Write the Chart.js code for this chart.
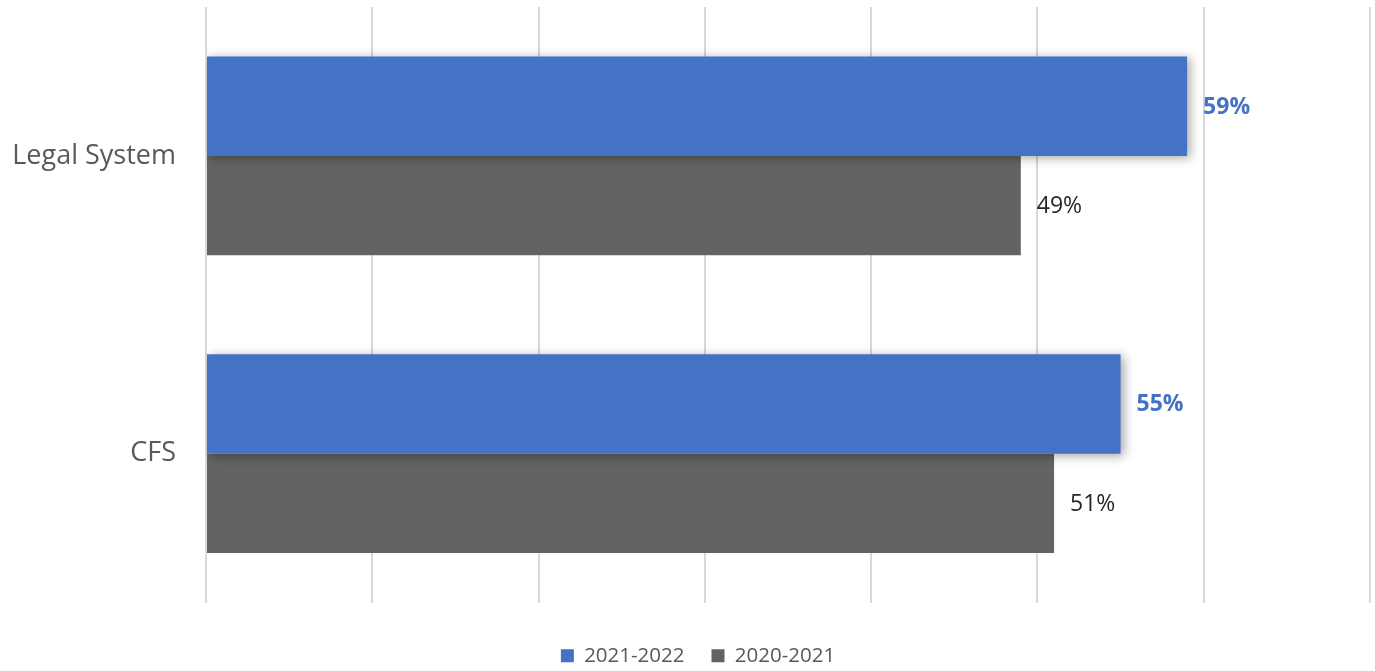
<!DOCTYPE html>
<html>
<head>
<meta charset="utf-8">
<title>Legal System vs CFS</title>
<script src="https://cdn.jsdelivr.net/npm/chart.js@4"></script>
<style>
  body { margin: 0; background: #fff; }
  #wrap { width: 1375px; height: 671px; position: relative; }
</style>
</head>
<body>
<div id="wrap"><canvas id="barChart"></canvas></div>
<script>
const categories = ['Legal System', 'CFS'];
const seriesNames = ['2021-2022', '2020-2021'];
const values2122 = [59, 55];
const values2021 = [49, 51];
const axisMax = 70;
const axisStep = 10;

const BLUE = '#4472C4';
const GRAY = '#636363';
const FONT = "'Open Sans', 'Noto Sans', sans-serif";

// soft shadow behind the blue bars only
const barShadow = {
  id: 'barShadow',
  beforeDatasetDraw(chart, args) {
    if (args.index !== 0) return;
    const { ctx } = chart;
    ctx.save();
    ctx.shadowColor = 'rgba(0, 0, 0, 0.35)';
    ctx.shadowBlur = 10;
    ctx.shadowOffsetX = 3;
    ctx.shadowOffsetY = 2;
  },
  afterDatasetDraw(chart, args) {
    if (args.index !== 0) return;
    chart.ctx.restore();
  },
};

// percentage labels just past the end of each bar
const valueLabels = {
  id: 'valueLabels',
  afterDatasetsDraw(chart) {
    const { ctx } = chart;
    ctx.save();
    ctx.textAlign = 'left';
    ctx.textBaseline = 'middle';
    chart.data.datasets.forEach((ds, i) => {
      const meta = chart.getDatasetMeta(i);
      meta.data.forEach((bar, j) => {
        if (i === 0) {
          ctx.font = `bold 23px ${FONT}`;
          ctx.fillStyle = BLUE;
        } else {
          ctx.font = `23px ${FONT}`;
          ctx.fillStyle = '#262626';
        }
        ctx.fillText(`${ds.data[j]}%`, bar.x + 16, bar.y + 1);
      });
    });
    ctx.restore();
  },
};

// legend sits centred under the plot area rather than the whole canvas
const legendNudge = {
  id: 'legendNudge',
  afterLayout(chart) {
    const lg = chart.legend;
    if (!lg) return;
    lg.left += 13;
    lg.right += 13;
  },
};

const ctx = document.getElementById('barChart').getContext('2d');
const chart = new Chart(ctx, {
  type: 'bar',
  data: {
    labels: categories,
    datasets: [
      {
        label: seriesNames[0],
        data: values2122,
        backgroundColor: BLUE,
      },
      {
        label: seriesNames[1],
        data: values2021,
        backgroundColor: GRAY,
      },
    ],
  },
  options: {
    indexAxis: 'y',
    responsive: true,
    maintainAspectRatio: false,
    animation: false,
    layout: {
      padding: { top: 7, right: 5, left: 0, bottom: -5 },
    },
    datasets: {
      bar: {
        categoryPercentage: 0.668,
        barPercentage: 1.0,
      },
    },
    plugins: {
      legend: {
        position: 'bottom',
        labels: {
          boxWidth: 13,
          boxHeight: 13,
          padding: 27,
          color: '#595959',
          font: { family: FONT, size: 20.5 },
        },
      },
      tooltip: { enabled: false },
    },
    scales: {
      x: {
        min: 0,
        max: axisMax,
        ticks: { display: false, stepSize: axisStep },
        grid: {
          color: '#d9d9d9',
          lineWidth: 2,
          drawTicks: false,
        },
        border: { display: false },
        afterFit(scale) {
          scale.height = 16;
        },
      },
      y: {
        grid: { display: false, drawTicks: false },
        border: { display: false },
        ticks: {
          color: '#595959',
          padding: 30,
          font: { family: FONT, size: 27 },
        },
        afterFit(scale) {
          scale.width = 206;
          scale.paddingTop = 0;
          scale.paddingBottom = 0;
        },
      },
    },
  },
  plugins: [barShadow, valueLabels, legendNudge],
});
</script>
</body>
</html>
